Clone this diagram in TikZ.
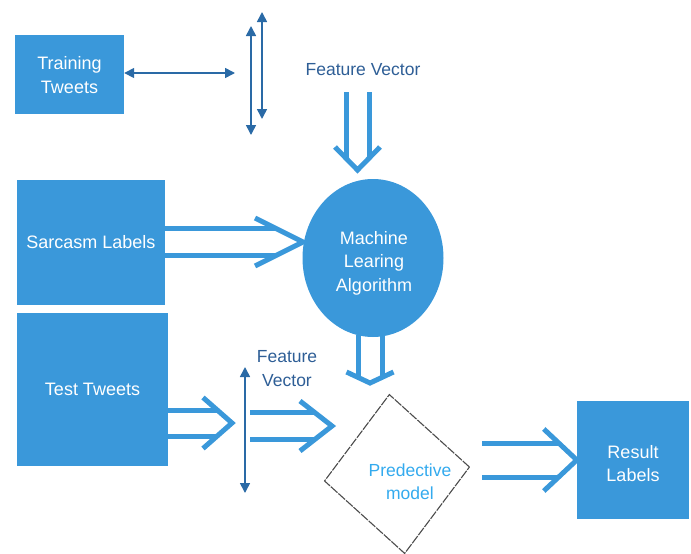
\documentclass[tikz,border=0pt]{standalone}
\usepackage{fontspec}
\setmainfont{Liberation Sans}
\usetikzlibrary{calc,arrows.meta,shapes.geometric}
\definecolor{boxblue}{HTML}{3A98DA}
\definecolor{arrdark}{HTML}{2A6AA6}
\definecolor{fvtext}{HTML}{2E5E96}
\definecolor{predblue}{HTML}{33AAEE}
\newcommand{\hollowarr}[5]{%
  \coordinate (ha-h) at ($(#2)!{#4*1pt}!(#1)$);
  \coordinate (ha-s) at ($(#2)!{#4*#3/#5*1pt}!(#1)$);
  \draw[hollow] ($(#1)!{#3*1pt}!90:(#2)$) -- ($(ha-s)!{#3*1pt}!90:(#2)$);
  \draw[hollow] ($(#1)!{#3*1pt}!-90:(#2)$) -- ($(ha-s)!{#3*1pt}!-90:(#2)$);
  \draw[hollow,line join=miter] ($(ha-h)!{#5*1pt}!90:(#2)$) -- (#2) -- ($(ha-h)!{#5*1pt}!-90:(#2)$);
}
\tikzset{
  bluebox/.style={fill=boxblue, draw=none, text=white, inner sep=0pt, align=center,
    font=\fontsize{18}{23.5}\selectfont},
  boxtext/.style={text=white, inner sep=0pt, align=center, font=\fontsize{18}{23.5}\selectfont},
  hollow/.style={draw=boxblue, line width=5pt},
  thinarr/.style={draw=arrdark, line width=1.6pt, {Triangle[length=10pt,width=10pt]}-{Triangle[length=10pt,width=10pt]}},
  fvlabel/.style={text=fvtext, align=center, inner sep=0pt, font=\fontsize{17.5}{23.5}\selectfont},
}
\begin{document}
\begin{tikzpicture}[x=1pt,y=-1pt]
\useasboundingbox (0,0) rectangle (691,554);
% boxes
\node[bluebox, minimum width=109pt, minimum height=79pt] (tt) at (69.5,74) {};
\node[boxtext] (ttt) at (69.5,75) {Training\\Tweets};
\node[bluebox, minimum width=148pt, minimum height=125pt] (sl) at (91,242.5) {Sarcasm Labels};
\node[bluebox, minimum width=151pt, minimum height=153pt] (te) at (92.5,389.5) {Test Tweets};
\node[bluebox, minimum width=112pt, minimum height=118pt] (rl) at (633,460) {};
\node[boxtext] (rlt) at (633,463.5) {Result\\Labels};
\node[bluebox, ellipse, minimum width=141pt, minimum height=158pt] (ml) at (373,258) {};
\node[boxtext] (mlt) at (374,263) {Machine\\Learing\\Algorithm};
% diamond
\node[diamond, draw=black!70, line width=1.1pt, dash pattern=on 9pt off 1.2pt,
  minimum width=146pt, minimum height=160pt, inner sep=0pt, rotate=5.5] (pm) at (397,474) {};
\node[text=predblue, align=center, inner sep=0pt, font=\fontsize{17.5}{23}\selectfont]
  (pmt) at ($(pm.center)+(13,8)$) {Predective\\model};
% labels
\node[fvlabel] (fv1) at (363,70) {Feature Vector};
\node[fvlabel] (fv2) at (287,368.5) {Feature\\Vector};
% thin arrows
\coordinate (h1) at (235,73);
\draw[thinarr] (tt.east |- h1) -- (h1);
\coordinate (v1a) at (251,26); \coordinate (v1b) at (251,135);
\coordinate (v2a) at (262,12); \coordinate (v2b) at (262,119);
\draw[thinarr] (v1a) -- (v1b);
\draw[thinarr] (v2a) -- (v2b);
\coordinate (v3a) at (245,367); \coordinate (v3b) at (245,493);
\draw[thinarr] (v3a) -- (v3b);
% hollow arrows
\coordinate (a1s) at ($(fv1.south)+(-5.5,16)$);
\coordinate (a1e) at (357.5,170);
\hollowarr{a1s}{a1e}{11.5}{23}{22.5}
\coordinate (a2s) at (sl.east |- 0,242);
\coordinate (a2e) at (303,242);
\hollowarr{a2s}{a2e}{13.5}{48}{24}
\coordinate (a3s) at (370,335);
\coordinate (a3e) at (370,383);
\hollowarr{a3s}{a3e}{12}{11}{23.5}
\coordinate (a4s) at (te.east |- 0,423);
\coordinate (a4e) at (232,423);
\hollowarr{a4s}{a4e}{13}{29}{25.5}
\coordinate (a5s) at (250,426);
\coordinate (a5e) at (332,426);
\hollowarr{a5s}{a5e}{13.5}{32}{25}
\coordinate (a6s) at (482,460);
\coordinate (a6e) at (rl.west |- 0,460);
\hollowarr{a6s}{a6e}{17}{33}{31}
\end{tikzpicture}
\end{document}
